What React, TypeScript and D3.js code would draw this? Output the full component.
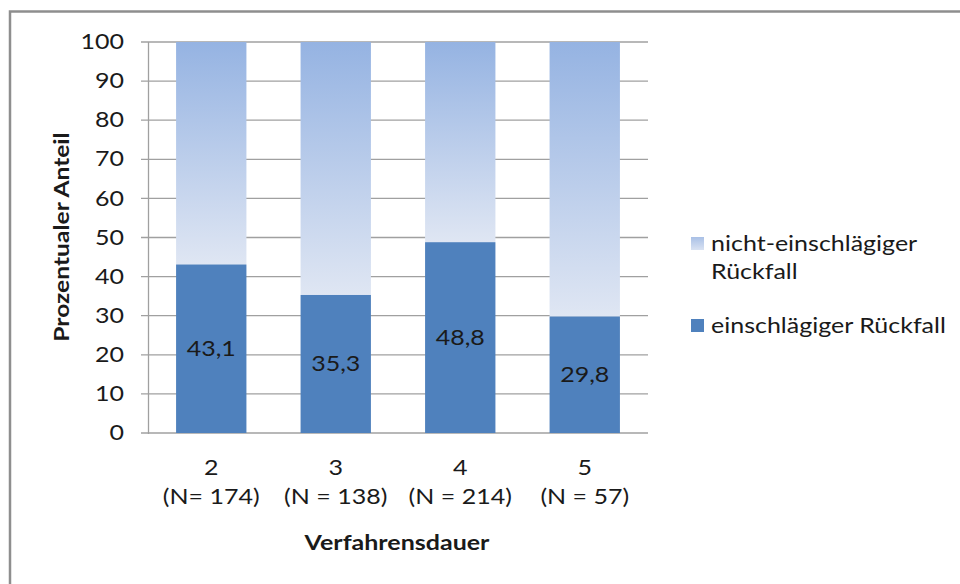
import React from "react";
import * as d3 from "d3";

const categories = ["2", "3", "4", "5"];
const nLabels = ["(N= 174)", "(N = 138)", "(N = 214)", "(N = 57)"];
const einschlaegig = [43.1, 35.3, 48.8, 29.8];
const valueLabels = ["43,1", "35,3", "48,8", "29,8"];
const yTicks = [0, 10, 20, 30, 40, 50, 60, 70, 80, 90, 100];
const seriesNames = ["nicht-einschlägiger Rückfall", "einschlägiger Rückfall"];

const W = 960;
const H = 584;
const FONT = "Lato, 'Open Sans', sans-serif";
const SX = 1.22;

function T({ x, y, children, anchor = "start", bold = false, rotate = 0, sx = SX, size = 20.5 }: any) {
  return (
    <text
      transform={`translate(${x},${y}) rotate(${rotate}) scale(${sx},1)`}
      dy="0.35em"
      textAnchor={anchor}
      fontFamily={FONT}
      fontSize={size}
      fontWeight={bold ? "bold" : "normal"}
      fill="#1a1a1a"
    >
      {children}
    </text>
  );
}

export default function App() {
  const x = d3.scaleBand<string>().domain(categories).range([149, 647]).paddingInner(0.435).paddingOuter(0.2175);
  const y = d3.scaleLinear().domain([0, 100]).range([433, 42]);
  const bw = x.bandwidth();
  return (
    <svg width={W} height={H} style={{ position: "absolute", left: 0, top: 0 }}>
      <defs>
        <linearGradient id="lightGrad" x1="0" y1="0" x2="0" y2="1">
          <stop offset="0%" stopColor="#95b3e2" />
          <stop offset="100%" stopColor="#dfe6f3" />
        </linearGradient>
        <linearGradient id="legGrad" x1="0" y1="0" x2="0" y2="1">
          <stop offset="0%" stopColor="#a9c0e6" />
          <stop offset="100%" stopColor="#d9e2f2" />
        </linearGradient>
      </defs>
      <rect x={0} y={0} width={W} height={H} fill="#fff" />
      <path d="M10,590 L10,11.5 L962,11.5" fill="none" stroke="#8e8e8e" strokeWidth={2.5} />
      {yTicks.map((t) => (
        <g key={t}>
          <line x1={141} x2={648} y1={y(t)} y2={y(t)} stroke="#a0a0a0" strokeWidth={1.3} />
          <T x={124} y={y(t)} anchor="end">{String(t)}</T>
        </g>
      ))}
      <line x1={148.5} x2={148.5} y1={42} y2={434} stroke="#a0a0a0" strokeWidth={1.3} />
      {categories.map((c, i) => {
        const x0 = x(c)!;
        const v = einschlaegig[i];
        return (
          <g key={c}>
            <rect x={x0} y={y(100)} width={bw} height={y(v) - y(100)} fill="url(#lightGrad)" />
            <rect x={x0} y={y(v)} width={bw} height={y(0) - y(v)} fill="#4f81bd" />
            <T x={x0 + bw / 2} y={(y(v) + y(0)) / 2} anchor="middle">{valueLabels[i]}</T>
            <T x={x0 + bw / 2} y={468} anchor="middle">{c}</T>
            <T x={x0 + bw / 2} y={497} anchor="middle">{nLabels[i]}</T>
          </g>
        );
      })}
      <T x={397} y={543} anchor="middle" bold>Verfahrensdauer</T>
      <T x={62} y={237} anchor="middle" bold rotate={-90} sx={1.2}>Prozentualer Anteil</T>
      <rect x={691} y={237} width={13} height={13} fill="url(#legGrad)" />
      <T x={711} y={244}>nicht-einschlägiger</T>
      <T x={711} y={272}>Rückfall</T>
      <rect x={691} y={319} width={13} height={13} fill="#4f81bd" />
      <T x={711} y={326}>{seriesNames[1]}</T>
    </svg>
  );
}
